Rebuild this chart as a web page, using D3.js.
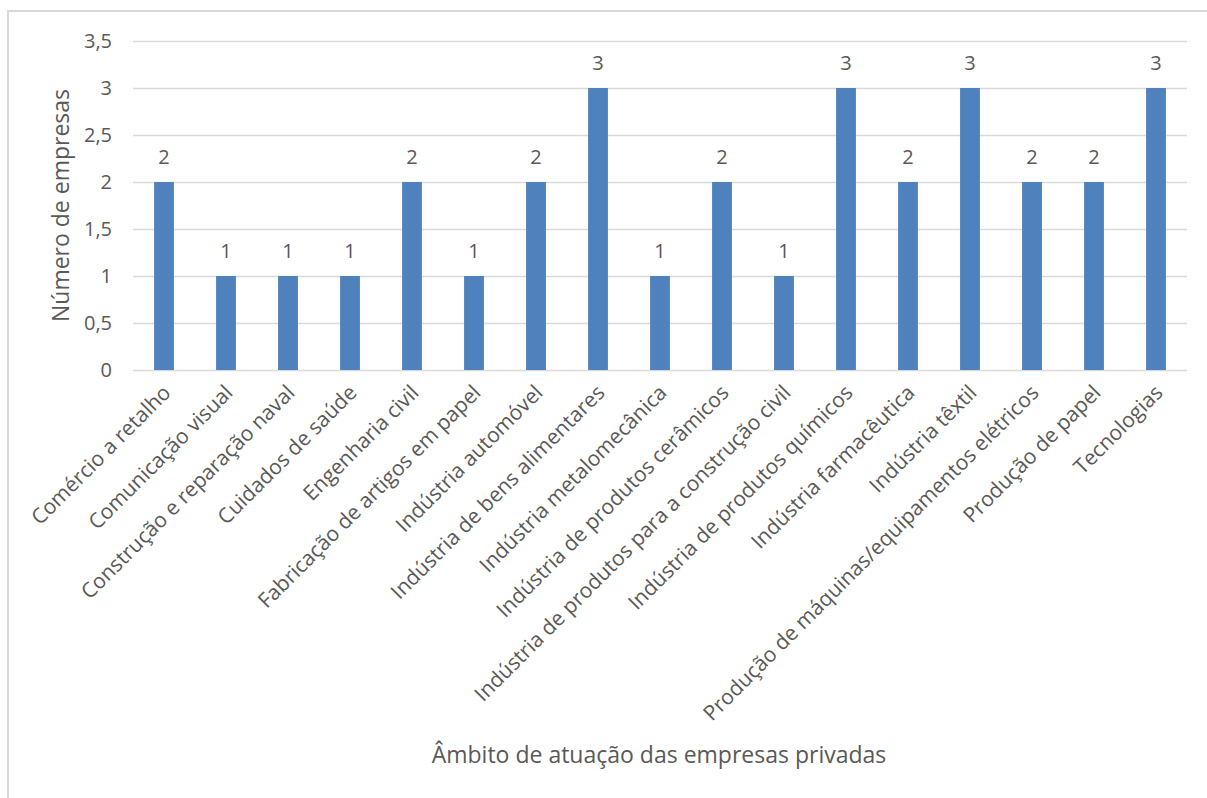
<!DOCTYPE html>
<html>
<head>
<meta charset="utf-8">
<script src="https://cdn.jsdelivr.net/npm/d3@7"></script>
<style>
  html, body { margin: 0; padding: 0; background: #fff; }
  svg { display: block; }
  text { font-family: "Open Sans", sans-serif; fill: #595959; }
</style>
</head>
<body>
<svg id="chart" width="1207" height="798"></svg>
<script>
// Companies by sector of activity
const categories = [
  "Comércio a retalho",
  "Comunicação visual",
  "Construção e reparação naval",
  "Cuidados de saúde",
  "Engenharia civil",
  "Fabricação de artigos em papel",
  "Indústria automóvel",
  "Indústria de bens alimentares",
  "Indústria metalomecânica",
  "Indústria de produtos cerâmicos",
  "Indústria de produtos para a construção civil",
  "Indústria de produtos químicos",
  "Indústria farmacêutica",
  "Indústria têxtil",
  "Produção de máquinas/equipamentos elétricos",
  "Produção de papel",
  "Tecnologias"
];
const values = [2, 1, 1, 1, 2, 1, 2, 3, 1, 2, 1, 3, 2, 3, 2, 2, 3];
const yTicks = [0, 0.5, 1, 1.5, 2, 2.5, 3, 3.5];
const yTitle = "Número de empresas";
const xTitle = "Âmbito de atuação das empresas privadas";

const FONT = "'Open Sans', sans-serif";
const svg = d3.select("#chart");
const fmt = v => String(v).replace(".", ",");

// outer chart frame
svg.append("rect")
  .attr("x", 8).attr("y", 11)
  .attr("width", 1220).attr("height", 800)
  .attr("fill", "none")
  .attr("stroke", "#D9D9D9")
  .attr("stroke-width", 2);

const plot = { left: 133, right: 1187, top: 41, bottom: 370 };

const x = d3.scaleBand()
  .domain(categories)
  .range([plot.left, plot.right])
  .paddingInner(0.68)
  .paddingOuter(0.34);

const y = d3.scaleLinear()
  .domain([0, 3.5])
  .range([plot.bottom, plot.top]);

// horizontal gridlines + y tick labels
const yAxis = d3.axisLeft(y)
  .tickValues(yTicks)
  .tickSize(-(plot.right - plot.left))
  .tickPadding(21)
  .tickFormat(fmt);

const gy = svg.append("g")
  .attr("transform", `translate(${plot.left},0)`)
  .call(yAxis);
gy.select(".domain").remove();
gy.selectAll(".tick line").attr("stroke", "#D9D9D9").attr("stroke-width", 1.5);
gy.selectAll(".tick text")
  .attr("font-size", 20)
  .attr("fill", "#595959")
  .style("font-family", FONT);

// bars
svg.append("g").selectAll("rect")
  .data(values)
  .join("rect")
  .attr("x", (d, i) => x(categories[i]))
  .attr("width", x.bandwidth())
  .attr("y", d => y(d))
  .attr("height", d => y(0) - y(d))
  .attr("fill", "#4F81BD");

// value labels
svg.append("g").selectAll("text")
  .data(values)
  .join("text")
  .attr("x", (d, i) => x(categories[i]) + x.bandwidth() / 2)
  .attr("y", d => y(d) - 18)
  .attr("text-anchor", "middle")
  .attr("font-size", 20)
  .text(d => fmt(d));

// category labels, rotated
const xAxis = d3.axisBottom(x).tickSize(0).tickPadding(0);
const gx = svg.append("g")
  .attr("transform", `translate(0,${plot.bottom})`)
  .call(xAxis);
gx.select(".domain").remove();
gx.selectAll(".tick text")
  .attr("font-size", 21)
  .attr("fill", "#595959")
  .style("font-family", FONT)
  .attr("text-anchor", "end")
  .attr("dy", null)
  .attr("y", 0)
  .attr("transform", "translate(8,24) rotate(-45)");

// axis titles
svg.append("text")
  .attr("transform", `translate(69,${(plot.top + plot.bottom) / 2}) rotate(-90)`)
  .attr("text-anchor", "middle")
  .attr("font-size", 23)
  .text(yTitle);

svg.append("text")
  .attr("x", 659)
  .attr("y", 763)
  .attr("text-anchor", "middle")
  .attr("font-size", 23)
  .text(xTitle);
</script>
</body>
</html>
